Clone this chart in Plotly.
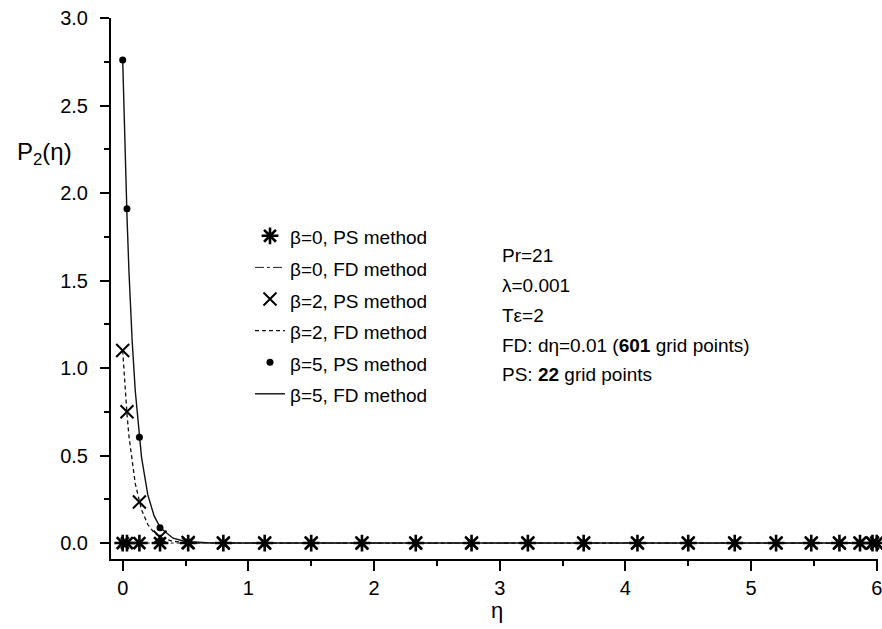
import plotly.graph_objects as go

# PS (pseudo-spectral) collocation points
eta_ps = [0.0, 0.034, 0.133, 0.297, 0.521, 0.801, 1.130, 1.500, 1.904, 2.332, 2.776,
          3.224, 3.668, 4.096, 4.500, 4.870, 5.199, 5.479, 5.703, 5.867, 5.966, 6.0]
p_b0_ps = [0.0, 0.0, 0.0, 0.0, 0.0, 0.0, 0.0, 0.0, 0.0, 0.0, 0.0,
           0.0, 0.0, 0.0, 0.0, 0.0, 0.0, 0.0, 0.0, 0.0, 0.0, 0.0]
p_b2_ps = [1.10, 0.75, 0.235, 0.034, 0.003, 0.0, 0.0, 0.0, 0.0, 0.0, 0.0,
           0.0, 0.0, 0.0, 0.0, 0.0, 0.0, 0.0, 0.0, 0.0, 0.0, 0.0]
p_b5_ps = [2.76, 1.91, 0.605, 0.087, 0.007, 0.0, 0.0, 0.0, 0.0, 0.0, 0.0,
           0.0, 0.0, 0.0, 0.0, 0.0, 0.0, 0.0, 0.0, 0.0, 0.0, 0.0]

# FD curves
eta_fd = [0.0, 0.01, 0.02, 0.035, 0.05, 0.075, 0.1, 0.15, 0.2, 0.25, 0.3, 0.4, 0.5, 0.7, 1.0, 2.0, 3.0, 4.0, 5.0, 6.0]
p_b0_fd = [0.0, 0.0, 0.0, 0.0, 0.0, 0.0, 0.0, 0.0, 0.0, 0.0, 0.0, 0.0, 0.0, 0.0, 0.0, 0.0, 0.0, 0.0, 0.0, 0.0]
p_b2_fd = [1.10, 0.98, 0.87, 0.73, 0.61, 0.46, 0.34, 0.19, 0.106, 0.059, 0.033, 0.010, 0.003, 0.0, 0.0, 0.0, 0.0, 0.0, 0.0, 0.0]
p_b5_fd = [2.76, 2.45, 2.19, 1.85, 1.55, 1.16, 0.87, 0.49, 0.275, 0.155, 0.087, 0.028, 0.009, 0.001, 0.0, 0.0, 0.0, 0.0, 0.0, 0.0]

x_ticks = [0, 1, 2, 3, 4, 5, 6]
y_ticks = [0.0, 0.5, 1.0, 1.5, 2.0, 2.5, 3.0]
y_ticklabels = ["0.0", "0.5", "1.0", "1.5", "2.0", "2.5", "3.0"]

info_lines = ["Pr=21", "λ=0.001", "Tε=2",
              "FD: dη=0.01 (<b>601</b> grid points)", "PS: <b>22</b> grid points"]

FS = 19
TFS = 20
def nm(s):
    return '<span style="font-size:%dpx">%s</span>' % (FS, s)

fig = go.Figure()
# FD lines
fig.add_trace(go.Scatter(x=eta_fd, y=p_b0_fd, mode="lines", name=nm("β=0, FD method"),
                         line=dict(color="#222", width=1, dash="dashdot"), legendrank=2))
fig.add_trace(go.Scatter(x=eta_fd, y=p_b2_fd, mode="lines", name=nm("β=2, FD method"),
                         line=dict(color="#111", width=1.3, dash="4px,3px"), legendrank=4))
fig.add_trace(go.Scatter(x=eta_fd, y=p_b5_fd, mode="lines", name=nm("β=5, FD method"),
                         line=dict(color="#111", width=1.4), legendrank=6))
# PS markers
fig.add_trace(go.Scatter(x=eta_ps, y=p_b0_ps, mode="markers", name=nm("β=0, PS method"),
                         marker=dict(symbol="asterisk-open", size=14, color="black",
                                     line=dict(color="black", width=2.6)),
                         cliponaxis=False, legendrank=1))
fig.add_trace(go.Scatter(x=eta_ps, y=p_b2_ps, mode="markers", name=nm("β=2, PS method"),
                         marker=dict(symbol="x-thin-open", size=13, color="black",
                                     line=dict(color="black", width=2)),
                         cliponaxis=False, legendrank=3))
fig.add_trace(go.Scatter(x=eta_ps, y=p_b5_ps, mode="markers", name=nm("β=5, PS method"),
                         marker=dict(symbol="circle", size=7, color="black"),
                         cliponaxis=False, legendrank=5))

L, R, T, B = 111, 4, 18, 70
W, H = 882, 629
ph = H - T - B

def py(pix):
    return (H - B - pix) / ph

def px(pix):
    return (pix - L) / (W - L - R)

fig.update_layout(
    width=W, height=H,
    margin=dict(l=L, r=R, t=T, b=B, autoexpand=False),
    paper_bgcolor="white", plot_bgcolor="white",
    font=dict(family="Liberation Sans, Arial, sans-serif", size=FS, color="black"),
    showlegend=True,
    legend=dict(x=px(250), y=py(215), xanchor="left", yanchor="top",
                font=dict(size=22, color="black"), bgcolor="rgba(0,0,0,0)",
                borderwidth=0, itemwidth=30, tracegroupgap=0),
    xaxis=dict(range=[-0.093, 6.01], tickvals=x_ticks, ticks="outside", ticklen=10,
               tickwidth=1.5, tickcolor="black", showline=True, linewidth=2,
               linecolor="black", mirror=False, showgrid=False, zeroline=False,
               tickfont=dict(size=TFS), ticklabelstandoff=0, ticklabeloverflow="allow",
               minor=dict(ticks="outside", ticklen=5, tickwidth=1.5, tickcolor="black",
                          dtick=0.5, tick0=0, showgrid=False)),
    yaxis=dict(range=[-0.091, 3.0], tickvals=y_ticks, ticktext=y_ticklabels,
               ticks="outside", ticklen=9, tickwidth=1.5, tickcolor="black",
               showline=True, linewidth=2, linecolor="black", mirror=False,
               showgrid=False, zeroline=False, tickfont=dict(size=TFS),
               ticklabelstandoff=8,
               minor=dict(ticks="outside", ticklen=5, tickwidth=1.5, tickcolor="black",
                          dtick=0.25, tick0=0, showgrid=False)),
)

annotations = []
info_y = [255, 285, 315, 345, 374]
for txt, yy in zip(info_lines, info_y):
    annotations.append(dict(text=txt, xref="paper", yref="paper", x=px(500), y=py(yy),
                            xanchor="left", yanchor="middle", showarrow=False,
                            font=dict(size=FS, color="black")))
annotations.append(dict(text="P<sub>2</sub>(η)", xref="paper", yref="paper",
                        x=px(44), y=py(153), xanchor="center", yanchor="middle",
                        showarrow=False, font=dict(size=24, color="black")))
annotations.append(dict(text="η", xref="paper", yref="paper",
                        x=px(497), y=py(611), xanchor="center", yanchor="middle",
                        showarrow=False, font=dict(size=22, color="black")))
fig.update_layout(annotations=annotations)

fig.write_html("out.html", config={"displayModeBar": False},
               post_script="document.body.style.margin='0';document.body.style.padding='0';")
